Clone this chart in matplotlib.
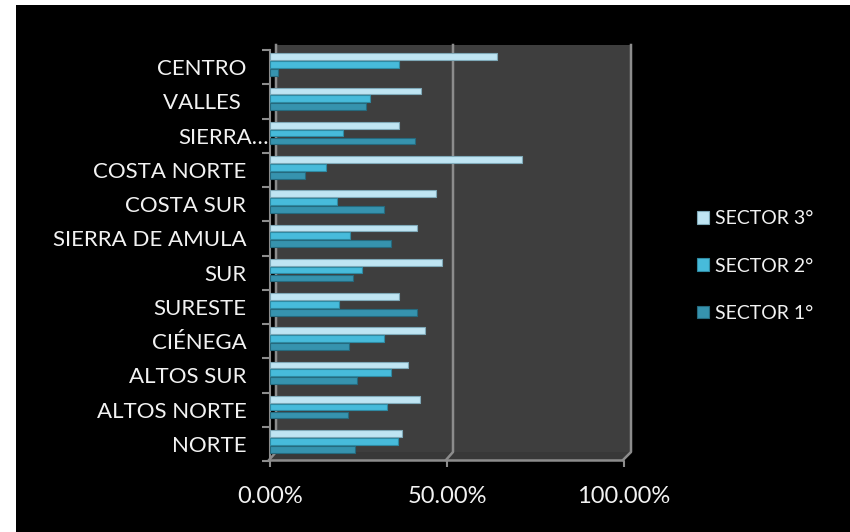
import matplotlib
matplotlib.use("Agg")
import matplotlib.pyplot as plt
from matplotlib.patches import Rectangle, Polygon, Patch
from matplotlib.lines import Line2D
import matplotlib.transforms as mtrans

plt.rcParams["font.family"] = ["Lato", "DejaVu Sans"]

# Kategorien von unten nach oben
regiones = ["NORTE", "ALTOS NORTE", "ALTOS SUR", "CIÉNEGA", "SURESTE", "SUR",
            "SIERRA DE AMULA", "COSTA SUR", "COSTA NORTE", "SIERRA…", "VALLES ", "CENTRO"]

sector3 = [0.372, 0.423, 0.391, 0.439, 0.364, 0.485, 0.416, 0.470, 0.713, 0.364, 0.427, 0.640]
sector2 = [0.361, 0.330, 0.341, 0.321, 0.195, 0.261, 0.226, 0.190, 0.159, 0.205, 0.282, 0.365]
sector1 = [0.240, 0.220, 0.246, 0.222, 0.415, 0.234, 0.342, 0.321, 0.099, 0.409, 0.271, 0.023]

serien = [("SECTOR 3°", sector3, "#bfe5f3", "#7fa9b8", 0.305),
          ("SECTOR 2°", sector2, "#47bbdb", "#2f8aa3", 0.075),
          ("SECTOR 1°", sector1, "#3693ae", "#256a7e", -0.155)]

W, H = 850, 532
fig = plt.figure(figsize=(W / 100, H / 100), dpi=100, facecolor="white")
fig.patches.append(Rectangle((16 / W, 0), 1, (H - 5) / H, transform=fig.transFigure,
                             facecolor="black", edgecolor="none", zorder=-10))

ax_l, ax_r, ax_t, ax_b = 270, 624, 50, 461
ax = fig.add_axes([ax_l / W, (H - ax_b) / H, (ax_r - ax_l) / W, (ax_b - ax_t) / H])
ax.patch.set_visible(False)


def fx(px):
    return (px - ax_l) / (ax_r - ax_l)


def fy(py):
    return (ax_b - py) / (ax_b - ax_t)


# 3D-Wand und Boden
wand = "#3e3e3e"
linie = "#8c8c8c"
ax.add_patch(Rectangle((fx(276), fy(452)), fx(631) - fx(276), fy(45) - fy(452),
                       transform=ax.transAxes, facecolor=wand, edgecolor="none",
                       clip_on=False, zorder=0))
ax.add_patch(Polygon([(fx(269), fy(460)), (fx(623), fy(460)), (fx(631), fy(452)), (fx(276), fy(452))],
                     closed=True, transform=ax.transAxes, facecolor="#383838",
                     edgecolor="none", clip_on=False, zorder=0))
for xf, xb in [(269, 276), (446, 453), (623, 631)]:
    ax.add_line(Line2D([fx(xf), fx(xb), fx(xb)], [fy(460), fy(452), fy(45)],
                       transform=ax.transAxes, color=linie, lw=1.8, clip_on=False, zorder=1))
ax.add_line(Line2D([fx(269), fx(623)], [fy(460), fy(460)], transform=ax.transAxes,
                   color=linie, lw=1.8, clip_on=False, zorder=1))

y = list(range(len(regiones)))
for name, werte, farbe, rand, off in serien:
    ax.barh([v + off for v in y], werte, height=0.2, color=farbe,
            edgecolor=rand, linewidth=0.8, zorder=3, label=name)

ax.set_xlim(0, 1)
ax.set_ylim(-0.5, len(regiones) - 0.5)

ax.set_xticks([0, 0.5, 1])
ax.set_xticklabels(["0.00%", "50.00%", "100.00%"])
ax.tick_params(axis="x", length=4, width=1.5, color=linie, pad=14,
               labelsize=17, labelcolor="#f2f2f2")

ax.set_yticks(y)
ax.set_yticklabels(regiones)
ax.set_yticks([v - 0.5 for v in range(len(regiones) + 1)], minor=True)
ax.tick_params(axis="y", which="major", length=0, pad=17, labelsize=16, labelcolor="#f2f2f2")
ax.tick_params(axis="y", which="minor", length=6, width=1.5, color=linie)

for lab in ax.get_yticklabels():
    if lab.get_text() == "SIERRA…":
        lab.set_transform(lab.get_transform() + mtrans.ScaledTranslation(22 / 100, 0, fig.dpi_scale_trans))

for s in ["top", "right", "bottom"]:
    ax.spines[s].set_visible(False)
ax.spines["left"].set_color(linie)
ax.spines["left"].set_linewidth(1.5)

handles = [Patch(facecolor=f, edgecolor=r, linewidth=0.8) for _, _, f, r, _ in serien]
fig.legend(handles, [s[0] for s in serien], loc="center left",
           bbox_to_anchor=(697 / W, (H - 266) / H), frameon=False,
           fontsize=14, labelcolor="#f2f2f2", handlelength=0.6, handleheight=0.6,
           handletextpad=0.35, labelspacing=1.55, borderpad=0, borderaxespad=0)

fig.savefig("out.png", dpi=100, facecolor="white")
